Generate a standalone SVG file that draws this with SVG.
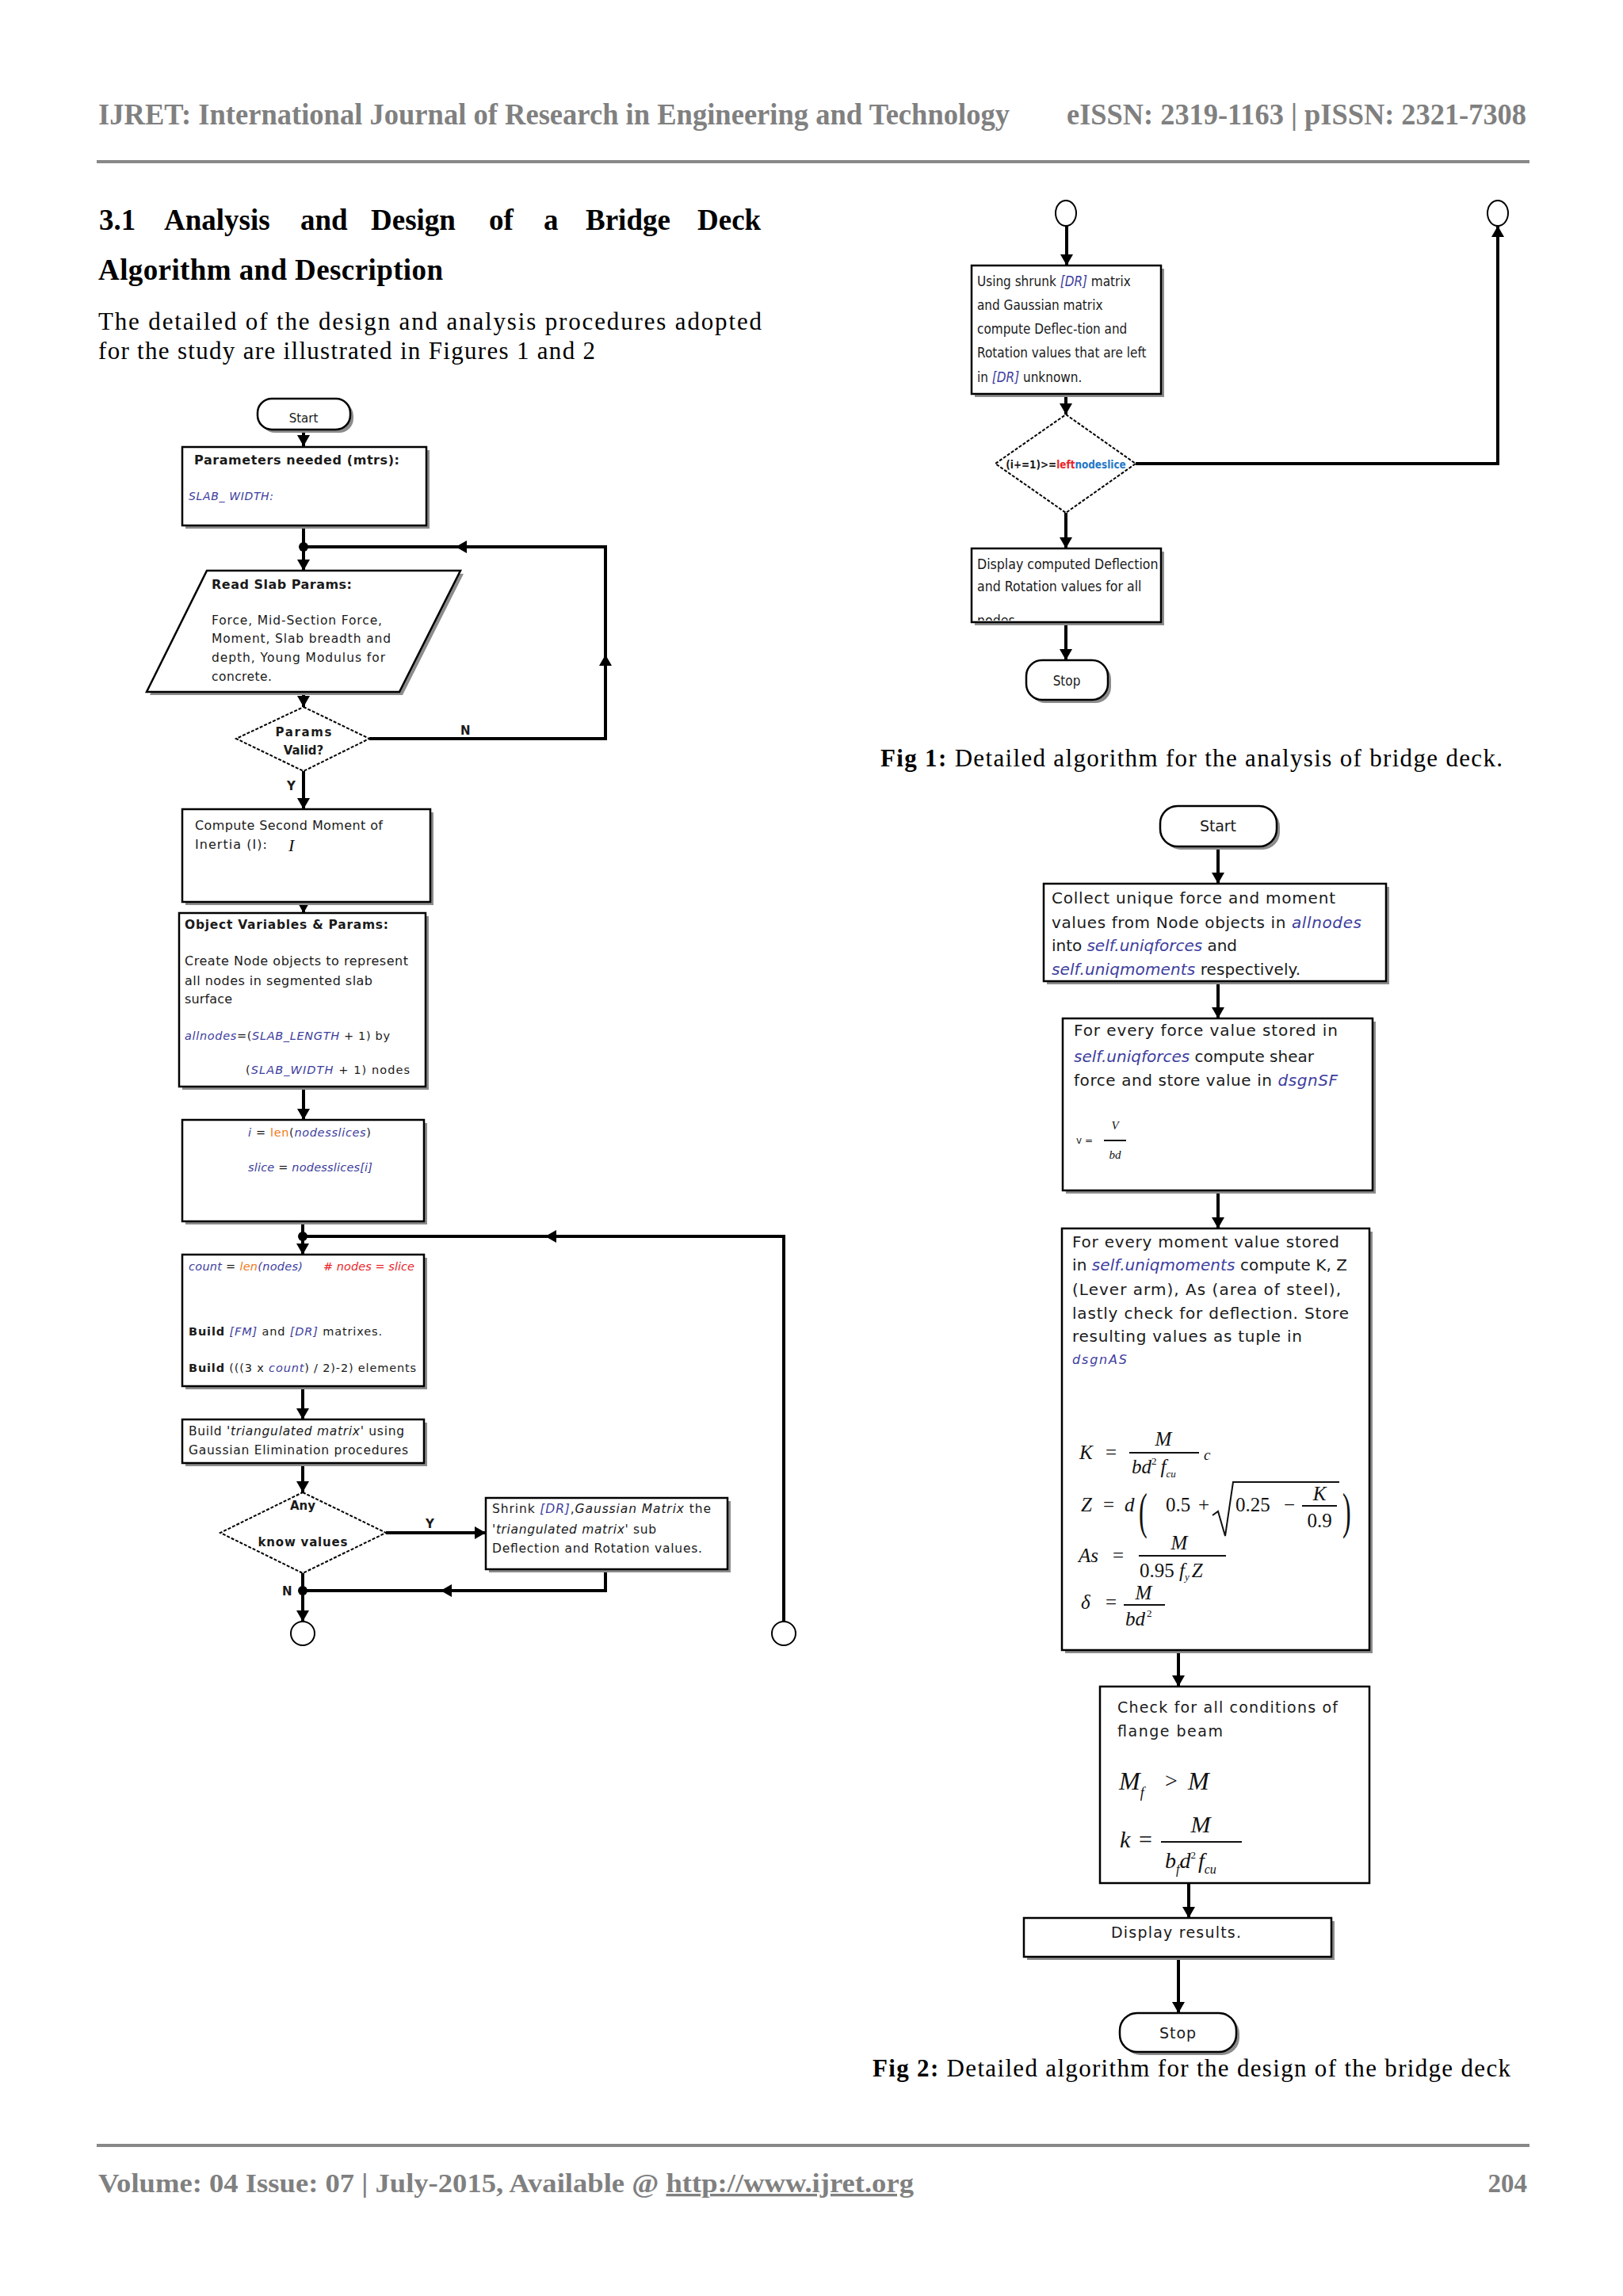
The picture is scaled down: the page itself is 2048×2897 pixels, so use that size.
<svg xmlns="http://www.w3.org/2000/svg" width="2048" height="2897" viewBox="0 0 2048 2897">
<defs>
<style>
.bx{fill:#fff;stroke:#000;stroke-width:2.5}
.sh{fill:#8c8c8c}
.dm{fill:#fff;stroke:#000;stroke-width:2;stroke-dasharray:4 2}
.ln{fill:none;stroke:#000;stroke-width:4}
.ah{fill:#000}
.dot{fill:#000}
.cn{fill:#fff;stroke:#000;stroke-width:2}
.bar{stroke:#111;stroke-width:2}
.f{font-family:"DejaVu Sans","Liberation Sans",sans-serif;fill:#1a1a1a}
.b{font-weight:bold}
.bi{fill:#3d3d9e;font-style:italic}
.or{fill:#f07a1a}
.rd{fill:#e8262a}
.cy{fill:#1f78c8}
.m{font-family:"Liberation Serif","Times New Roman",serif;font-style:italic;fill:#111}
.mu{font-family:"Liberation Serif","Times New Roman",serif;font-style:normal;fill:#111}
.hd{font-family:"Liberation Serif","Times New Roman",serif;font-weight:bold;fill:#808080}
.ser{font-family:"Liberation Serif","Times New Roman",serif;fill:#000}
</style>
<path id="ah" d="M0,0 L-14,-8 L-14,8 Z"/>
<clipPath id="cd1"><polygon points="383,892 466,932 383,973 298,932"/></clipPath>
<clipPath id="cdisp"><rect x="1226" y="692" width="239" height="91"/></clipPath>
</defs>
<rect width="2048" height="2897" fill="#fff"/>

<g id="page-header">
<text class="hd" x="124" y="157" font-size="37" textLength="1150" lengthAdjust="spacingAndGlyphs">IJRET: International Journal of Research in Engineering and Technology</text>
<text class="hd" x="1346" y="157" font-size="37" textLength="580" lengthAdjust="spacingAndGlyphs">eISSN: 2319-1163 | pISSN: 2321-7308</text>
<line x1="122" y1="204" x2="1930" y2="204" stroke="#888" stroke-width="4"/>
</g>

<g id="section-text" class="ser">
<g font-weight="bold" font-size="37">
<text x="125" y="290">3.1</text>
<text x="207" y="290">Analysis</text>
<text x="379" y="290">and</text>
<text x="468" y="290">Design</text>
<text x="617" y="290">of</text>
<text x="686" y="290">a</text>
<text x="739" y="290">Bridge</text>
<text x="880" y="290">Deck</text>
<text x="124" y="353" textLength="435">Algorithm and Description</text>
</g>
<text x="124" y="416" font-size="31" textLength="837">The detailed of the design and analysis procedures adopted</text>
<text x="124" y="453" font-size="31" textLength="627">for the study are illustrated in Figures 1 and 2</text>
</g>

<g id="connectors">
<path class="ln" d="M383,542 V563 M383,663 V720 M466,932 H764 V690 H383 M383,873 V892 M383,973 V1021 M383,1138 V1152 M383,1371 V1413 M382,1541 V1583 M382,1560 H989 V2046 M382,1749 V1791 M382,1846 V1883 M487,1934 H613 M764,1980 V2007 H382 M382,1985 V2046"/>
<path class="ln" d="M1346,285 V335 M1345,497 V523 M1433,585 H1890 V285 M1345,647 V692 M1345,785 V833"/>
<path class="ln" d="M1537,1068 V1115 M1537,1238 V1285 M1537,1502 V1550 M1487,2082 V2128 M1500,2376 V2420 M1487,2469 V2540"/>
<g class="ah">
<use href="#ah" transform="translate(383,563) rotate(90)"/>
<use href="#ah" transform="translate(383,720) rotate(90)"/>
<use href="#ah" transform="translate(764,826) rotate(-90)"/>
<use href="#ah" transform="translate(575,690) rotate(180)"/>
<use href="#ah" transform="translate(383,892) rotate(90)"/>
<use href="#ah" transform="translate(383,1021) rotate(90)"/>
<use href="#ah" transform="translate(383,1152) rotate(90)"/>
<use href="#ah" transform="translate(383,1413) rotate(90)"/>
<use href="#ah" transform="translate(382,1583) rotate(90)"/>
<use href="#ah" transform="translate(688,1560) rotate(180)"/>
<use href="#ah" transform="translate(382,1791) rotate(90)"/>
<use href="#ah" transform="translate(382,1883) rotate(90)"/>
<use href="#ah" transform="translate(613,1934)"/>
<use href="#ah" transform="translate(556,2007) rotate(180)"/>
<use href="#ah" transform="translate(382,2046) rotate(90)"/>
<use href="#ah" transform="translate(1346,335) rotate(90)"/>
<use href="#ah" transform="translate(1345,523) rotate(90)"/>
<use href="#ah" transform="translate(1890,285) rotate(-90)"/>
<use href="#ah" transform="translate(1345,692) rotate(90)"/>
<use href="#ah" transform="translate(1345,833) rotate(90)"/>
<use href="#ah" transform="translate(1537,1115) rotate(90)"/>
<use href="#ah" transform="translate(1537,1285) rotate(90)"/>
<use href="#ah" transform="translate(1537,1550) rotate(90)"/>
<use href="#ah" transform="translate(1487,2128) rotate(90)"/>
<use href="#ah" transform="translate(1500,2420) rotate(90)"/>
<use href="#ah" transform="translate(1487,2540) rotate(90)"/>
</g>
<circle class="dot" cx="383" cy="690" r="6"/>
<circle class="dot" cx="382" cy="1560" r="6"/>
<circle class="dot" cx="382" cy="2007" r="6"/>
<g class="f b" font-size="15">
<text x="581" y="927">N</text>
<text x="362" y="997">Y</text>
<text x="537" y="1928">Y</text>
<text x="356" y="2013">N</text>
</g>
</g>

<g id="f1-start">
<rect class="sh" x="329" y="507" width="117" height="39" rx="18"/>
<rect class="bx" x="325" y="503" width="117" height="39" rx="18"/>
<text class="f" x="383" y="533" font-size="15" text-anchor="middle">Start</text>
</g>

<g id="f1-params">
<rect class="sh" x="234" y="568" width="308" height="99"/>
<rect class="bx" x="230" y="564" width="308" height="99"/>
<text class="f b" x="245" y="586" font-size="16" textLength="259">Parameters needed (mtrs):</text>
<text class="f bi" x="238" y="631" font-size="14" textLength="107">SLAB_ WIDTH:</text>
</g>

<g id="f1-read">
<polygon class="sh" points="265,724 585,724 508,877 189,877"/>
<polygon class="bx" points="261,720 581,720 504,873 185,873"/>
<text class="f b" x="267" y="743" font-size="16" textLength="177">Read Slab Params:</text>
<text class="f" x="267" y="788" font-size="15.5" textLength="215">Force, Mid-Section Force,</text>
<text class="f" x="267" y="811" font-size="15.5" textLength="226">Moment, Slab breadth and</text>
<text class="f" x="267" y="835" font-size="15.5" textLength="219">depth, Young Modulus for</text>
<text class="f" x="267" y="859" font-size="15.5" textLength="76">concrete.</text>
</g>

<g id="f1-valid">
<polygon class="dm" points="383,892 466,932 383,973 298,932"/>
<g clip-path="url(#cd1)">
<text class="f b" x="383" y="929" font-size="15" text-anchor="middle" textLength="71">Params</text>
<text class="f b" x="383" y="952" font-size="15" text-anchor="middle">Valid?</text>
</g>
</g>

<g id="f1-compute">
<rect class="sh" x="234" y="1025" width="313" height="117"/>
<rect class="bx" x="230" y="1021" width="313" height="117"/>
<text class="f" x="246" y="1047" font-size="16" textLength="237">Compute Second Moment of</text>
<text class="f" x="246" y="1071" font-size="16" textLength="91">Inertia (I):</text>
<text class="m" x="364" y="1074" font-size="22">I</text>
</g>

<g id="f1-object">
<rect class="sh" x="230" y="1156" width="311" height="219"/>
<rect class="bx" x="226" y="1152" width="311" height="219"/>
<text class="f b" x="233" y="1172" font-size="15.5" textLength="257">Object Variables &amp; Params:</text>
<text class="f" x="233" y="1218" font-size="16" textLength="282">Create Node objects to represent</text>
<text class="f" x="233" y="1243" font-size="16" textLength="237">all nodes in segmented slab</text>
<text class="f" x="233" y="1266" font-size="16" textLength="60">surface</text>
<text class="f" x="233" y="1312" font-size="14.5" textLength="259"><tspan class="bi">allnodes</tspan>=(<tspan class="bi">SLAB_LENGTH</tspan> + 1) by</text>
<text class="f" x="310" y="1355" font-size="14.5" textLength="207">(<tspan class="bi">SLAB_WIDTH</tspan> + 1) nodes</text>
</g>

<g id="f1-slice">
<rect class="sh" x="234" y="1417" width="305" height="128"/>
<rect class="bx" x="230" y="1413" width="305" height="128"/>
<text class="f" x="313" y="1434" font-size="14.5" textLength="155"><tspan class="bi">i</tspan> = <tspan class="or">len</tspan>(<tspan class="bi">nodesslices</tspan>)</text>
<text class="f" x="313" y="1478" font-size="14.5" textLength="157"><tspan class="bi">slice</tspan> = <tspan class="bi">nodesslices[i]</tspan></text>
</g>

<g id="f1-count">
<rect class="sh" x="234" y="1587" width="305" height="166"/>
<rect class="bx" x="230" y="1583" width="305" height="166"/>
<text class="f" x="238" y="1603" font-size="14.5" textLength="144"><tspan class="bi">count</tspan> = <tspan class="or" font-style="italic">len</tspan><tspan class="bi">(nodes)</tspan></text>
<text class="f rd" x="408" y="1603" font-size="14.5" font-style="italic" textLength="115"># nodes = slice</text>
<text class="f" x="238" y="1685" font-size="14.5" textLength="244"><tspan class="b">Build</tspan> <tspan class="bi">[FM]</tspan> and <tspan class="bi">[DR]</tspan> matrixes.</text>
<text class="f" x="238" y="1731" font-size="14.5" textLength="287"><tspan class="b">Build</tspan> (((3 x <tspan class="bi">count</tspan>) / 2)-2) elements</text>
</g>

<g id="f1-triangulate">
<rect class="sh" x="234" y="1795" width="305" height="55"/>
<rect class="bx" x="230" y="1791" width="305" height="55"/>
<text class="f" x="238" y="1811" font-size="15.5" textLength="272">Build '<tspan font-style="italic">triangulated matrix</tspan>' using</text>
<text class="f" x="238" y="1835" font-size="15.5" textLength="277">Gaussian Elimination procedures</text>
</g>

<g id="f1-known">
<polygon class="dm" points="382,1883 487,1934 382,1985 278,1934"/>
<text class="f b" x="382" y="1905" font-size="15" text-anchor="middle">Any</text>
<text class="f b" x="382" y="1951" font-size="15" text-anchor="middle" textLength="113">know values</text>
</g>

<g id="f1-shrink">
<rect class="sh" x="617" y="1894" width="305" height="90"/>
<rect class="bx" x="613" y="1890" width="305" height="90"/>
<text class="f" x="621" y="1909" font-size="15.5" textLength="276">Shrink <tspan class="bi">[DR]</tspan>,<tspan font-style="italic">Gaussian Matrix</tspan> the</text>
<text class="f" x="621" y="1935" font-size="15.5" textLength="207">'<tspan font-style="italic">triangulated matrix</tspan>' sub</text>
<text class="f" x="621" y="1959" font-size="15.5" textLength="265">Deflection and Rotation values.</text>
</g>

<g id="f1-conn-a">
<circle class="cn" cx="382" cy="2061" r="15"/>
</g>
<g id="f1-conn-b">
<circle class="cn" cx="989" cy="2061" r="15"/>
</g>

<g id="f1-conn-a2">
<ellipse class="cn" cx="1345" cy="269" rx="13" ry="16"/>
</g>
<g id="f1-conn-b2">
<ellipse class="cn" cx="1890" cy="269" rx="13" ry="16"/>
</g>

<g id="f1-using">
<rect class="sh" x="1230" y="339" width="239" height="162"/>
<rect class="bx" x="1226" y="335" width="239" height="162"/>
<g class="f" font-size="17" transform="translate(1233,0) scale(0.9,1)">
<text x="0" y="361">Using shrunk <tspan class="bi">[DR]</tspan> matrix</text>
<text x="0" y="391">and Gaussian matrix</text>
<text x="0" y="421">compute Deflec-tion and</text>
<text x="0" y="451">Rotation values that are left</text>
<text x="0" y="482">in <tspan class="bi">[DR]</tspan> unknown.</text>
</g>
</g>

<g id="f1-loopcheck">
<polygon class="dm" points="1345,523 1433,585 1345,647 1256,585"/>
<text class="f b" font-size="14" text-anchor="middle" transform="translate(1345,591) scale(0.86,1)">(i+=1)&gt;=<tspan class="rd">left</tspan><tspan class="cy">nodeslice</tspan></text>
</g>

<g id="f1-display">
<rect class="sh" x="1230" y="696" width="239" height="93"/>
<rect class="bx" x="1226" y="692" width="239" height="93"/>
<g clip-path="url(#cdisp)">
<g class="f" font-size="17" transform="translate(1233,0) scale(0.93,1)">
<text x="0" y="718">Display computed Deflection</text>
<text x="0" y="746">and Rotation values for all</text>
<text x="0" y="789">nodes</text>
</g>
</g>
</g>

<g id="f1-stop">
<rect class="sh" x="1299" y="837" width="103" height="50" rx="20"/>
<rect class="bx" x="1295" y="833" width="103" height="50" rx="20"/>
<text class="f" font-size="17" text-anchor="middle" transform="translate(1346,865) scale(0.9,1)">Stop</text>
</g>

<text class="ser" x="1111" y="967" font-size="31" textLength="785"><tspan font-weight="bold">Fig 1:</tspan> Detailed algorithm for the analysis of bridge deck.</text>

<g id="f2-start">
<rect class="sh" x="1468" y="1021" width="147" height="51" rx="22"/>
<rect class="bx" x="1464" y="1017" width="147" height="51" rx="22"/>
<text class="f" x="1537" y="1049" font-size="19" text-anchor="middle" textLength="46">Start</text>
</g>

<g id="f2-collect">
<rect class="sh" x="1321" y="1119" width="432" height="123"/>
<rect class="bx" x="1317" y="1115" width="432" height="123"/>
<text class="f" x="1327" y="1140" font-size="20" textLength="358">Collect unique force and moment</text>
<text class="f" x="1327" y="1171" font-size="20" textLength="391">values from Node objects in <tspan class="bi">allnodes</tspan></text>
<text class="f" x="1327" y="1200" font-size="20" textLength="234">into <tspan class="bi">self.uniqforces</tspan> and</text>
<text class="f" x="1327" y="1230" font-size="20" textLength="314"><tspan class="bi">self.uniqmoments</tspan> respectively.</text>
</g>

<g id="f2-shear">
<rect class="sh" x="1345" y="1289" width="391" height="217"/>
<rect class="bx" x="1341" y="1285" width="391" height="217"/>
<text class="f" x="1355" y="1307" font-size="20" textLength="333">For every force value stored in</text>
<text class="f" x="1355" y="1340" font-size="20" textLength="303"><tspan class="bi">self.uniqforces</tspan> compute shear</text>
<text class="f" x="1355" y="1370" font-size="20" textLength="333">force and store value in <tspan class="bi">dsgnSF</tspan></text>
<text class="f" x="1358" y="1443" font-size="12">v =</text>
<text class="m" x="1407" y="1425" font-size="15" text-anchor="middle">V</text>
<line class="bar" x1="1393" y1="1439" x2="1421" y2="1439"/>
<text class="m" x="1407" y="1462" font-size="15" text-anchor="middle">bd</text>
</g>

<g id="f2-moment">
<rect class="sh" x="1344" y="1554" width="388" height="532"/>
<rect class="bx" x="1340" y="1550" width="388" height="532"/>
<text class="f" x="1353" y="1574" font-size="20" textLength="337">For every moment value stored</text>
<text class="f" x="1353" y="1603" font-size="20" textLength="347">in <tspan class="bi">self.uniqmoments</tspan> compute K, Z</text>
<text class="f" x="1353" y="1634" font-size="20" textLength="339">(Lever arm), As (area of steel),</text>
<text class="f" x="1353" y="1664" font-size="20" textLength="349">lastly check for deflection. Store</text>
<text class="f" x="1353" y="1693" font-size="20" textLength="290">resulting values as tuple in</text>
<text class="f bi" x="1353" y="1721" font-size="16" textLength="69">dsgnAS</text>
<!-- K -->
<text class="m" x="1362" y="1841" font-size="25">K</text>
<text class="mu" x="1395" y="1841" font-size="25">=</text>
<text class="m" x="1468" y="1824" font-size="25" text-anchor="middle">M</text>
<line class="bar" x1="1425" y1="1833" x2="1513" y2="1833"/>
<text class="m" x="1428" y="1859" font-size="25">bd<tspan font-size="13" dy="-11" class="mu">2</tspan><tspan dy="11" dx="5">f</tspan><tspan font-size="13" dy="5">cu</tspan></text>
<text class="m" x="1519" y="1842" font-size="19">c</text>
<!-- Z -->
<text class="m" x="1364" y="1907" font-size="25">Z</text>
<text class="mu" x="1392" y="1907" font-size="25">=</text>
<text class="m" x="1419" y="1907" font-size="25">d</text>
<text class="mu" font-size="32" transform="translate(1437,1928) scale(1,2)">(</text>
<text class="mu" x="1471" y="1907" font-size="25">0.5</text>
<text class="mu" x="1512" y="1907" font-size="25">+</text>
<polyline points="1530,1912 1537,1907 1546,1938 1556,1870 1690,1870" fill="none" stroke="#111" stroke-width="2"/>
<text class="mu" x="1559" y="1907" font-size="25">0.25</text>
<text class="mu" x="1620" y="1907" font-size="25">−</text>
<text class="m" x="1665" y="1893" font-size="25" text-anchor="middle">K</text>
<line class="bar" x1="1643" y1="1900" x2="1687" y2="1900"/>
<text class="mu" x="1665" y="1927" font-size="25" text-anchor="middle">0.9</text>
<text class="mu" font-size="32" transform="translate(1694,1928) scale(1,2)">)</text>
<!-- As -->
<text class="m" x="1361" y="1971" font-size="25">As</text>
<text class="mu" x="1404" y="1971" font-size="25">=</text>
<text class="m" x="1488" y="1955" font-size="25" text-anchor="middle">M</text>
<line class="bar" x1="1437" y1="1963" x2="1547" y2="1963"/>
<text class="mu" x="1438" y="1990" font-size="25">0.95 <tspan class="m">f</tspan><tspan class="m" font-size="13" dy="4">y</tspan><tspan class="m" dy="-4" dx="3">Z</tspan></text>
<!-- delta -->
<text class="m" x="1364" y="2030" font-size="25">δ</text>
<text class="mu" x="1395" y="2030" font-size="25">=</text>
<text class="m" x="1443" y="2018" font-size="25" text-anchor="middle">M</text>
<line class="bar" x1="1418" y1="2025" x2="1470" y2="2025"/>
<text class="m" x="1420" y="2051" font-size="25">bd<tspan class="mu" font-size="13" dy="-11" dx="2">2</tspan></text>
</g>

<g id="f2-flange">
<rect class="bx" x="1388" y="2128" width="340" height="248"/>
<text class="f" x="1410" y="2161" font-size="19" textLength="278">Check for all conditions of</text>
<text class="f" x="1410" y="2191" font-size="19" textLength="133">flange beam</text>
<text class="m" x="1412" y="2258" font-size="32">M<tspan font-size="18" dy="10">f</tspan></text>
<text class="mu" x="1470" y="2256" font-size="28">&gt;</text>
<text class="m" x="1499" y="2258" font-size="32">M</text>
<text class="m" x="1413" y="2331" font-size="30">k</text>
<text class="mu" x="1437" y="2331" font-size="30">=</text>
<text class="m" x="1515" y="2312" font-size="30" text-anchor="middle">M</text>
<line class="bar" x1="1465" y1="2324" x2="1567" y2="2324"/>
<text class="m" x="1470" y="2357" font-size="28">b<tspan font-size="16" dy="7">f</tspan><tspan dy="-7">d</tspan><tspan class="mu" font-size="13" dy="-12">2</tspan><tspan dy="12" dx="3">f</tspan><tspan font-size="16" dy="7">cu</tspan></text>
</g>

<g id="f2-display">
<rect class="sh" x="1296" y="2424" width="388" height="49"/>
<rect class="bx" x="1292" y="2420" width="388" height="49"/>
<text class="f" x="1402" y="2445" font-size="19" textLength="164">Display results.</text>
</g>

<g id="f2-stop">
<rect class="sh" x="1417" y="2544" width="147" height="49" rx="22"/>
<rect class="bx" x="1413" y="2540" width="147" height="49" rx="22"/>
<text class="f" x="1486" y="2572" font-size="19" text-anchor="middle" textLength="46">Stop</text>
</g>

<text class="ser" x="1101" y="2620" font-size="31" textLength="805"><tspan font-weight="bold">Fig 2:</tspan> Detailed algorithm for the design of the bridge deck</text>

<g id="page-footer">
<line x1="122" y1="2707" x2="1930" y2="2707" stroke="#888" stroke-width="4"/>
<text class="hd" x="124" y="2766" font-size="33" textLength="1029" lengthAdjust="spacingAndGlyphs">Volume: 04 Issue: 07 | July-2015, Available @ <tspan text-decoration="underline">http://www.ijret.org</tspan></text>
<text class="hd" x="1927" y="2766" font-size="33" text-anchor="end">204</text>
</g>
</svg>
